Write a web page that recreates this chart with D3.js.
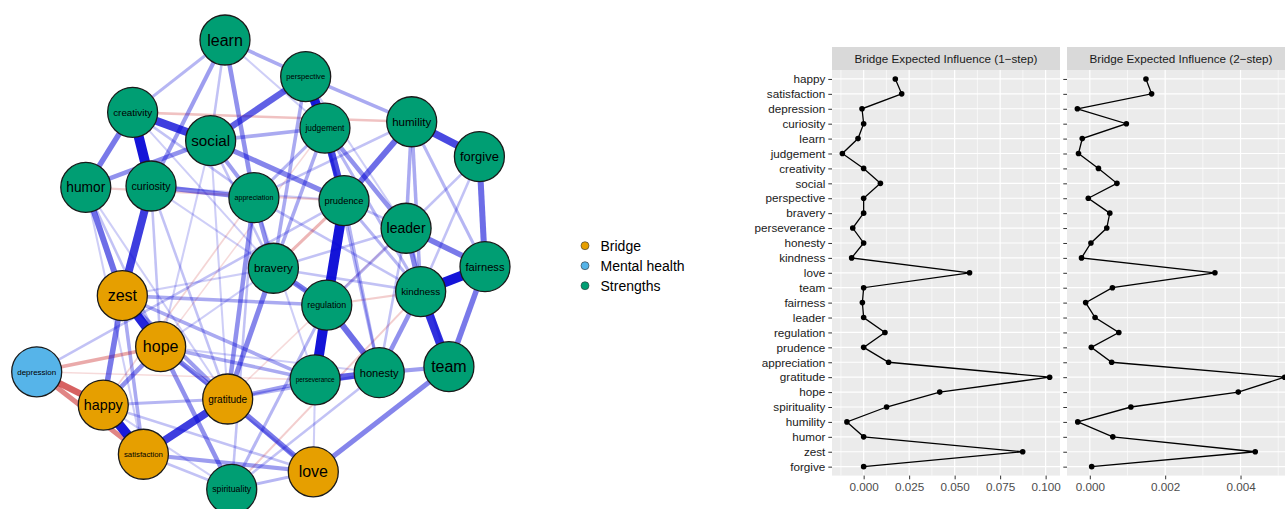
<!DOCTYPE html>
<html>
<head>
<meta charset="utf-8">
<script src="https://cdn.jsdelivr.net/npm/d3@7"></script>
<style>
  body { margin: 0; background: #fff; }
  svg text { font-family: "Liberation Sans", Arial, Helvetica, sans-serif; }
</style>
</head>
<body>
<svg id="chart" width="1285" height="509"></svg>
<script>
// ---- network data (layout coordinates in [-1, 1], qgraph style) ----
const nodeNames = ['learn', 'perspective', 'creativity', 'social', 'judgement', 'humility', 'forgive',
	'humor', 'curiosity', 'appreciation', 'prudence', 'leader', 'bravery', 'fairness', 'zest',
	'regulation', 'kindness', 'hope', 'depression', 'perseverance', 'honesty', 'team', 'happy',
	'gratitude', 'satisfaction', 'love', 'spirituality'];
const nodeLayoutX = [-0.160, 0.200, -0.572, -0.224, 0.286, 0.673, 0.975, -0.781, -0.490, -0.031, 0.371,
	0.648, 0.056, 1.000, -0.618, 0.294, 0.713, -0.447, -1.000, 0.242, 0.528, 0.839, -0.703, -0.148,
	-0.524, 0.234, -0.130];
const nodeLayoutY = [1.000, 0.837, 0.678, 0.552, 0.608, 0.636, 0.481, 0.344, 0.350, 0.298, 0.285,
	0.162, -0.016, -0.009, -0.138, -0.180, -0.120, -0.365, -0.477, -0.513, -0.481, -0.454, -0.625,
	-0.598, -0.844, -0.922, -1.000];
const bridgeNodes = ['zest', 'hope', 'happy', 'gratitude', 'satisfaction', 'love'];
const mentalNodes = ['depression'];
const groupNames = ['Bridge', 'Mental health', 'Strengths'];
const groupColors = ['#E69F00', '#56B4E9', '#009E73'];

// [from, to, partial correlation weight]
const edges = [
	['creativity', 'curiosity', 0.95], ['prudence', 'regulation', 0.95], ['regulation', 'perseverance', 0.95],
	['kindness', 'fairness', 0.95], ['happy', 'satisfaction', 0.9], ['perspective', 'judgement', 0.9],
	['zest', 'hope', 0.85], ['kindness', 'team', 0.8], ['curiosity', 'zest', 0.75],
	['creativity', 'social', 0.75], ['satisfaction', 'gratitude', 0.75], ['judgement', 'prudence', 0.7],
	['humility', 'forgive', 0.7], ['social', 'perspective', 0.6], ['perseverance', 'honesty', 0.6],
	['regulation', 'honesty', 0.55], ['humility', 'prudence', 0.55], ['forgive', 'fairness', 0.55],
	['humor', 'zest', 0.55], ['humor', 'creativity', 0.5], ['bravery', 'regulation', 0.5],
	['leader', 'fairness', 0.5], ['fairness', 'team', 0.5], ['gratitude', 'love', 0.5],
	['zest', 'happy', 0.5], ['team', 'love', 0.45], ['leader', 'kindness', 0.45],
	['hope', 'gratitude', 0.45], ['social', 'prudence', 0.45], ['curiosity', 'appreciation', 0.45],
	['gratitude', 'bravery', 0.45], ['hope', 'spirituality', 0.4], ['humor', 'social', 0.4],
	['learn', 'appreciation', 0.4], ['happy', 'hope', 0.4], ['gratitude', 'appreciation', 0.4],
	['judgement', 'leader', 0.4], ['honesty', 'kindness', 0.4], ['bravery', 'appreciation', 0.4],
	['honesty', 'team', 0.35], ['learn', 'curiosity', 0.35], ['social', 'appreciation', 0.35],
	['satisfaction', 'love', 0.35], ['zest', 'gratitude', 0.35], ['gratitude', 'perseverance', 0.35],
	['social', 'judgement', 0.3], ['learn', 'perspective', 0.3], ['perspective', 'humility', 0.3],
	['learn', 'creativity', 0.25], ['humility', 'leader', 0.3], ['humility', 'kindness', 0.3],
	['humility', 'fairness', 0.25], ['zest', 'regulation', 0.3], ['zest', 'perseverance', 0.3],
	['hope', 'perseverance', 0.3], ['zest', 'satisfaction', 0.3], ['perspective', 'bravery', 0.3],
	['bravery', 'judgement', 0.3], ['happy', 'gratitude', 0.25], ['depression', 'prudence', 0.2],
	['judgement', 'kindness', 0.25], ['regulation', 'leader', 0.25], ['prudence', 'kindness', 0.25],
	['prudence', 'honesty', 0.25], ['judgement', 'honesty', 0.25], ['spirituality', 'regulation', 0.25],
	['spirituality', 'love', 0.25], ['appreciation', 'judgement', 0.25], ['forgive', 'leader', 0.2],
	['forgive', 'kindness', 0.2], ['bravery', 'kindness', 0.2], ['bravery', 'leader', 0.2],
	['appreciation', 'kindness', 0.2], ['honesty', 'leader', 0.2], ['humility', 'appreciation', 0.2],
	['spirituality', 'honesty', 0.2], ['curiosity', 'gratitude', 0.2], ['curiosity', 'regulation', 0.15],
	['humor', 'hope', 0.2], ['creativity', 'appreciation', 0.2], ['creativity', 'bravery', 0.15],
	['social', 'bravery', 0.2], ['social', 'gratitude', 0.15], ['learn', 'social', 0.2],
	['happy', 'love', 0.2], ['hope', 'love', 0.2], ['satisfaction', 'spirituality', 0.2],
	['happy', 'spirituality', 0.15], ['hope', 'bravery', 0.15], ['hope', 'honesty', 0.15],
	['zest', 'bravery', 0.15], ['appreciation', 'spirituality', 0.2], ['perseverance', 'love', 0.15],
	['gratitude', 'honesty', 0.25], ['leader', 'team', 0.2], ['prudence', 'leader', 0.2],
	['appreciation', 'perseverance', 0.15], ['perspective', 'prudence', 0.25], ['perspective', 'leader', 0.15],
	['learn', 'judgement', 0.15], ['curiosity', 'prudence', 0.15], ['humor', 'gratitude', 0.15],
	['humor', 'satisfaction', 0.15], ['curiosity', 'hope', 0.2], ['social', 'hope', 0.15],
	['depression', 'happy', -0.6], ['depression', 'satisfaction', -0.45], ['depression', 'hope', -0.3],
	['creativity', 'humility', -0.2], ['humor', 'prudence', -0.15], ['prudence', 'bravery', -0.25],
	['regulation', 'kindness', -0.15], ['spirituality', 'kindness', -0.15], ['happy', 'appreciation', -0.12],
	['depression', 'perseverance', -0.1], ['hope', 'judgement', -0.1], ['gratitude', 'leader', -0.1],
];

// ---- bridge expected influence data ----
const items = ['happy', 'satisfaction', 'depression', 'curiosity', 'learn', 'judgement', 'creativity',
	'social', 'perspective', 'bravery', 'perseverance', 'honesty', 'kindness', 'love', 'team', 'fairness',
	'leader', 'regulation', 'prudence', 'appreciation', 'gratitude', 'hope', 'spirituality', 'humility',
	'humor', 'zest', 'forgive'];
const bei1Step = [0.0174, 0.0209, -0.0009, 0.0000, -0.0031, -0.0117, 0.0000, 0.0092, 0.0000, 0.0000,
	-0.0060, 0.0000, -0.0066, 0.0582, 0.0000, -0.0007, 0.0000, 0.0117, 0.0000, 0.0137, 0.1022, 0.0418,
	0.0126, -0.0092, 0.0000, 0.0874, 0.0000];
const bei2Step = [0.00149, 0.00164, -0.00033, 0.00097, -0.00020, -0.00030, 0.00023, 0.00072, -0.00004,
	0.00053, 0.00045, 0.00003, -0.00022, 0.00332, 0.00060, -0.00011, 0.00014, 0.00077, 0.00004, 0.00058,
	0.00517, 0.00394, 0.00109, -0.00032, 0.00061, 0.00439, 0.00005];
const panelTitles = ['Bridge Expected Influence (1\u2212step)', 'Bridge Expected Influence (2\u2212step)'];
const ticks1Step = [0, 0.025, 0.05, 0.075, 0.1];
const ticks2Step = [0, 0.002, 0.004];

const svg = d3.select('#chart');

// ===================== network =====================
const nx = d3.scaleLinear().domain([-1, 1]).range([36.7, 485]);
const ny = d3.scaleLinear().domain([-1, 1]).range([489.3, 40]);
const nodeRadius = 25;

const nodes = nodeNames.map((name, i) => ({
	name: name,
	x: nx(nodeLayoutX[i]),
	y: ny(nodeLayoutY[i]),
	group: bridgeNodes.includes(name) ? 'Bridge' : mentalNodes.includes(name) ? 'Mental health' : 'Strengths',
}));
const nodeByName = {};
nodes.forEach((d) => (nodeByName[d.name] = d));
const color = d3.scaleOrdinal().domain(groupNames).range(groupColors);

// weaker edges first so strong ones sit on top
const edgeData = edges
	.map((e) => ({ source: nodeByName[e[0]], target: nodeByName[e[1]], w: e[2] }))
	.sort((a, b) => Math.abs(a.w) - Math.abs(b.w));
const edgeWidth = d3.scaleLinear().domain([0, 1]).range([0.6, 10.5]);

const net = svg.append('g');
net.selectAll('line.edge')
	.data(edgeData)
	.enter()
	.append('line')
	.attr('class', 'edge')
	.attr('x1', (d) => d.source.x)
	.attr('y1', (d) => d.source.y)
	.attr('x2', (d) => d.target.x)
	.attr('y2', (d) => d.target.y)
	.attr('stroke', (d) => (d.w > 0 ? '#0000D5' : '#BF0000'))
	.attr('stroke-opacity', (d) => Math.min(0.92, Math.abs(d.w) * 0.95 + 0.05))
	.attr('stroke-width', (d) => edgeWidth(Math.abs(d.w)));

const nodeG = net.selectAll('g.node')
	.data(nodes)
	.enter()
	.append('g')
	.attr('class', 'node')
	.attr('transform', (d) => `translate(${d.x},${d.y})`);

nodeG.append('circle')
	.attr('r', nodeRadius)
	.attr('fill', (d) => color(d.group))
	.attr('stroke', '#1a1a1a')
	.attr('stroke-width', 1.3);

// labels scaled to fit inside the node
nodeG.append('text')
	.attr('text-anchor', 'middle')
	.attr('dy', '0.35em')
	.attr('fill', '#000')
	.style('font-size', '10px')
	.text((d) => d.name)
	.each(function () {
		const w = this.getComputedTextLength() / 10;
		const size = Math.min(16, 39 / w);
		d3.select(this).style('font-size', size + 'px');
	});

// ===================== legend =====================
const legend = svg.append('g').attr('transform', 'translate(585,245.7)');
const legendRow = legend.selectAll('g')
	.data(groupNames)
	.enter()
	.append('g')
	.attr('transform', (d, i) => `translate(0,${i * 20})`);
legendRow.append('circle')
	.attr('r', 4)
	.attr('fill', (d) => color(d))
	.attr('stroke', '#333')
	.attr('stroke-width', 0.6);
legendRow.append('text')
	.attr('x', 15.5)
	.attr('dy', '0.36em')
	.style('font-size', '14px')
	.attr('fill', '#000')
	.text((d) => d);

// ===================== bridge EI panels =====================
const stripTop = 47;
const plotTop = 70;
const plotBottom = 475.6;
const y = d3.scalePoint().domain(items).range([plotTop, plotBottom]).padding(0.6);

function expand(ext) {
	const pad = (ext[1] - ext[0]) * 0.05;
	return [ext[0] - pad, ext[1] + pad];
}

function drawPanel(values, left, right, title, ticks, showY) {
	const x = d3.scaleLinear().domain(expand(d3.extent(values))).range([left, right]);
	const g = svg.append('g');

	// strip
	g.append('rect')
		.attr('x', left)
		.attr('y', stripTop)
		.attr('width', right - left)
		.attr('height', plotTop - stripTop)
		.attr('fill', '#D9D9D9');
	g.append('text')
		.attr('x', (left + right) / 2)
		.attr('y', (stripTop + plotTop) / 2)
		.attr('dy', '0.36em')
		.attr('text-anchor', 'middle')
		.attr('fill', '#1A1A1A')
		.style('font-size', '11.7px')
		.text(title);

	// panel background
	g.append('rect')
		.attr('x', left)
		.attr('y', plotTop)
		.attr('width', right - left)
		.attr('height', plotBottom - plotTop)
		.attr('fill', '#EBEBEB');

	// minor grid between major ticks
	const step = ticks[1] - ticks[0];
	const minor = d3.range(ticks[0] - step / 2, ticks[ticks.length - 1] + step, step)
		.filter((v) => x(v) > left && x(v) < right);
	g.selectAll('line.minor')
		.data(minor)
		.enter()
		.append('line')
		.attr('x1', (d) => x(d))
		.attr('x2', (d) => x(d))
		.attr('y1', plotTop)
		.attr('y2', plotBottom)
		.attr('stroke', '#fff')
		.attr('stroke-width', 0.6);

	g.selectAll('line.vmajor')
		.data(ticks)
		.enter()
		.append('line')
		.attr('x1', (d) => x(d))
		.attr('x2', (d) => x(d))
		.attr('y1', plotTop)
		.attr('y2', plotBottom)
		.attr('stroke', '#fff')
		.attr('stroke-width', 1.2);

	g.selectAll('line.hmajor')
		.data(items)
		.enter()
		.append('line')
		.attr('x1', left)
		.attr('x2', right)
		.attr('y1', (d) => y(d))
		.attr('y2', (d) => y(d))
		.attr('stroke', '#fff')
		.attr('stroke-width', 1.2);

	// x axis
	const xAxis = g.append('g')
		.attr('transform', `translate(0,${plotBottom})`)
		.call(d3.axisBottom(x).tickValues(ticks).tickFormat(d3.format('.3f')).tickSize(3.7).tickPadding(3));
	xAxis.select('.domain').remove();
	xAxis.selectAll('line').attr('stroke', '#333');
	xAxis.selectAll('text')
		.attr('fill', '#4D4D4D')
		.style('font-size', '11.7px')
		.style('font-family', '"Liberation Sans", Arial, sans-serif');

	// y axis
	const yAxis = g.append('g')
		.attr('transform', `translate(${left},0)`)
		.call(d3.axisLeft(y).tickSize(3.7).tickPadding(3));
	yAxis.select('.domain').remove();
	yAxis.selectAll('line').attr('stroke', '#333');
	yAxis.selectAll('text')
		.attr('fill', '#1A1A1A')
		.style('font-size', '11.7px')
		.style('font-family', '"Liberation Sans", Arial, sans-serif');
	if (!showY) yAxis.selectAll('text').remove();

	// line + points
	const pts = items.map((d, i) => [x(values[i]), y(d)]);
	g.append('path')
		.attr('d', d3.line()(pts))
		.attr('fill', 'none')
		.attr('stroke', '#000')
		.attr('stroke-width', 1.3);
	g.selectAll('circle')
		.data(pts)
		.enter()
		.append('circle')
		.attr('cx', (d) => d[0])
		.attr('cy', (d) => d[1])
		.attr('r', 2.8)
		.attr('fill', '#000');
}

drawPanel(bei1Step, 832, 1060, panelTitles[0], ticks1Step, true);
drawPanel(bei2Step, 1067, 1295, panelTitles[1], ticks2Step, false);
</script>
</body>
</html>
